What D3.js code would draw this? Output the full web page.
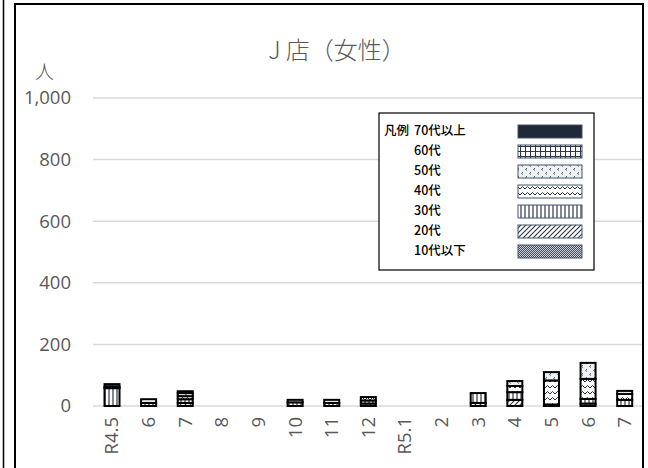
<!DOCTYPE html>
<html>
<head>
<meta charset="utf-8">
<script src="https://cdn.jsdelivr.net/npm/d3@7"></script>
<style>
  body { margin: 0; background: #fff; }
  svg { display: block; }
</style>
</head>
<body>
<div id="chart"></div>
<script>
// data
var months = ["R4.5", "6", "7", "8", "9", "10", "11", "12", "R5.1", "2", "3", "4", "5", "6", "7"];
var age10 = [0, 0, 0, 0, 0, 0, 0, 0, 0, 0, 0, 0, 0, 0, 0];
var age20 = [0, 0, 10, 0, 0, 0, 0, 8, 0, 0, 10, 20, 0, 8, 0];
var age30 = [58, 10, 12, 0, 0, 12, 10, 10, 0, 0, 32, 25, 5, 15, 20];
var age40 = [4, 12, 10, 0, 0, 8, 10, 11, 0, 0, 0, 20, 78, 65, 19];
var age50 = [0, 0, 10, 0, 0, 0, 0, 0, 0, 0, 0, 16, 27, 52, 10];
var age60 = [9, 0, 6, 0, 0, 0, 0, 0, 0, 0, 0, 0, 0, 0, 0];
var age70 = [0, 0, 0, 0, 0, 0, 0, 0, 0, 0, 0, 0, 0, 0, 0];
var seriesNames = ["10代以下", "20代", "30代", "40代", "50代", "60代", "70代以上"];
var yTicks = [0, 200, 400, 600, 800, 1000];

async function program() {
    var width = 648,
        height = 468;

    var svg = d3.select("#chart")
        .append("svg")
        .attr("width", width)
        .attr("height", height);

    // patterns for each age group
    var defs = svg.append("defs");
    var ink = "#2b3544";

    var p = defs.append("pattern").attr("id", "p10").attr("patternUnits", "userSpaceOnUse")
        .attr("width", 2).attr("height", 2);
    p.append("rect").attr("width", 2).attr("height", 2).attr("fill", "#c8ccd2");
    p.append("rect").attr("width", 1).attr("height", 1).attr("fill", "#4a5160");
    p.append("rect").attr("x", 1).attr("y", 1).attr("width", 1).attr("height", 1).attr("fill", "#4a5160");

    p = defs.append("pattern").attr("id", "p20").attr("patternUnits", "userSpaceOnUse")
        .attr("width", 5).attr("height", 5);
    p.append("rect").attr("width", 5).attr("height", 5).attr("fill", "#fff");
    p.append("path").attr("d", "M-1,1 L1,-1 M0,5 L5,0 M4,6 L6,4").attr("stroke", ink).attr("stroke-width", 1.1);

    p = defs.append("pattern").attr("id", "p30").attr("patternUnits", "userSpaceOnUse")
        .attr("width", 4).attr("height", 4);
    p.append("rect").attr("width", 4).attr("height", 4).attr("fill", "#fff");
    p.append("path").attr("d", "M1,0 L1,4").attr("stroke", ink).attr("stroke-width", 1.2);

    p = defs.append("pattern").attr("id", "p40").attr("patternUnits", "userSpaceOnUse")
        .attr("width", 10).attr("height", 6);
    p.append("rect").attr("width", 10).attr("height", 6).attr("fill", "#fff");
    p.append("path").attr("d", "M0,4 L2.5,1.5 L5,4 L7.5,1.5 L10,4").attr("fill", "none")
        .attr("stroke", ink).attr("stroke-width", 1);

    p = defs.append("pattern").attr("id", "p50").attr("patternUnits", "userSpaceOnUse")
        .attr("width", 8).attr("height", 8);
    p.append("rect").attr("width", 8).attr("height", 8).attr("fill", "#eef0f2");
    p.append("path").attr("d", "M3,1 L1.5,2.5 L3,3.5 M7,5 L5.5,6.5 L7,7.5").attr("fill", "none")
        .attr("stroke", "#4a5160").attr("stroke-width", 0.9);

    p = defs.append("pattern").attr("id", "p60").attr("patternUnits", "userSpaceOnUse")
        .attr("width", 5).attr("height", 5);
    p.append("rect").attr("width", 5).attr("height", 5).attr("fill", "#fff");
    p.append("path").attr("d", "M0,0.5 L5,0.5 M0.5,0 L0.5,5").attr("stroke", ink).attr("stroke-width", 1.1);

    var fills = ["url(#p10)", "url(#p20)", "url(#p30)", "url(#p40)", "url(#p50)", "url(#p60)", "#1f2937"];

    // outer frames
    svg.append("line").attr("x1", 3.5).attr("x2", 3.5).attr("y1", 0).attr("y2", height)
        .attr("stroke", "#000").attr("stroke-width", 1.5);
    svg.append("rect").attr("x", 15).attr("y", 4).attr("width", 628).attr("height", 470)
        .attr("fill", "none").attr("stroke", "#000").attr("stroke-width", 2);

    var x = d3.scaleBand()
        .domain(d3.range(months.length))
        .range([93.7, 643])
        .paddingInner(0.59)
        .paddingOuter(0.295);

    var y = d3.scaleLinear()
        .domain([0, 1000])
        .range([406, 98]);

    // gridlines
    svg.append("g")
        .selectAll("line")
        .data(yTicks)
        .join("line")
        .attr("x1", 93)
        .attr("x2", 642)
        .attr("y1", function(d){ return y(d); })
        .attr("y2", function(d){ return y(d); })
        .attr("stroke", "#d9d9d9")
        .attr("stroke-width", 1.5);

    // y tick labels
    svg.append("g")
        .selectAll("text")
        .data(yTicks)
        .join("text")
        .attr("x", 71)
        .attr("y", function(d){ return y(d); })
        .attr("dy", "0.35em")
        .attr("text-anchor", "end")
        .attr("font-family", "Open Sans, sans-serif")
        .attr("font-size", 18.5)
        .attr("fill", "#595959")
        .text(function(d){ return d3.format(",")(d); });

    // x tick labels
    svg.append("g")
        .selectAll("text")
        .data(months)
        .join("text")
        .attr("transform", function(d, i){
            return "translate(" + (x(i) + x.bandwidth() / 2) + ",417) rotate(-90)";
        })
        .attr("dy", "0.35em")
        .attr("text-anchor", "end")
        .attr("font-family", "Open Sans, sans-serif")
        .attr("font-size", 18.5)
        .attr("fill", "#595959")
        .text(function(d){ return d; });

    // stacked bars
    var rows = months.map(function(m, i){
        return { i: i, a0: age10[i], a1: age20[i], a2: age30[i], a3: age40[i], a4: age50[i], a5: age60[i], a6: age70[i] };
    });
    var keys = ["a0", "a1", "a2", "a3", "a4", "a5", "a6"];
    var stack = d3.stack().keys(keys)(rows);

    svg.append("g")
        .selectAll("g")
        .data(stack)
        .join("g")
        .attr("fill", function(d, k){ return fills[k]; })
        .selectAll("rect")
        .data(function(d){ return d.filter(function(s){ return s[1] - s[0] > 0; }); })
        .join("rect")
        .attr("x", function(d){ return x(d.data.i); })
        .attr("width", x.bandwidth())
        .attr("y", function(d){ return y(d[1]); })
        .attr("height", function(d){ return y(d[0]) - y(d[1]); })
        .attr("stroke", "#000")
        .attr("stroke-width", 2);

    // title and unit
    svg.append("text")
        .attr("x", 337)
        .attr("y", 59)
        .attr("text-anchor", "middle")
        .attr("font-family", "Noto Sans CJK JP, sans-serif")
        .attr("font-size", 24)
        .attr("font-weight", 300)
        .attr("fill", "#595959")
        .text("J 店（女性）");

    svg.append("text")
        .attr("x", 35)
        .attr("y", 79)
        .attr("font-family", "Noto Sans CJK JP, sans-serif")
        .attr("font-size", 19)
        .attr("font-weight", 300)
        .attr("fill", "#595959")
        .text("人");

    // legend
    var legend = svg.append("g");
    legend.append("rect")
        .attr("x", 379).attr("y", 113).attr("width", 215).attr("height", 157)
        .attr("fill", "#fff").attr("stroke", "#000").attr("stroke-width", 1.2);
    legend.append("text")
        .attr("x", 384).attr("y", 131).attr("dy", "0.35em")
        .attr("font-family", "Noto Sans CJK JP, sans-serif")
        .attr("font-size", 12.5).attr("font-weight", 500)
        .text("凡例");

    var order = d3.range(seriesNames.length).reverse();
    var item = legend.selectAll("g")
        .data(order)
        .join("g")
        .attr("transform", function(d, j){ return "translate(0," + (131 + j * 20) + ")"; });
    item.append("text")
        .attr("x", 414).attr("dy", "0.35em")
        .attr("font-family", "Noto Sans CJK JP, sans-serif")
        .attr("font-size", 12.5).attr("font-weight", 500)
        .text(function(d){ return seriesNames[d]; });
    item.append("rect")
        .attr("x", 518).attr("y", -6).attr("width", 64).attr("height", 13)
        .attr("fill", function(d){ return fills[d]; })
        .attr("stroke", "#44546a").attr("stroke-width", 1);
}

program();
</script>
</body>
</html>
